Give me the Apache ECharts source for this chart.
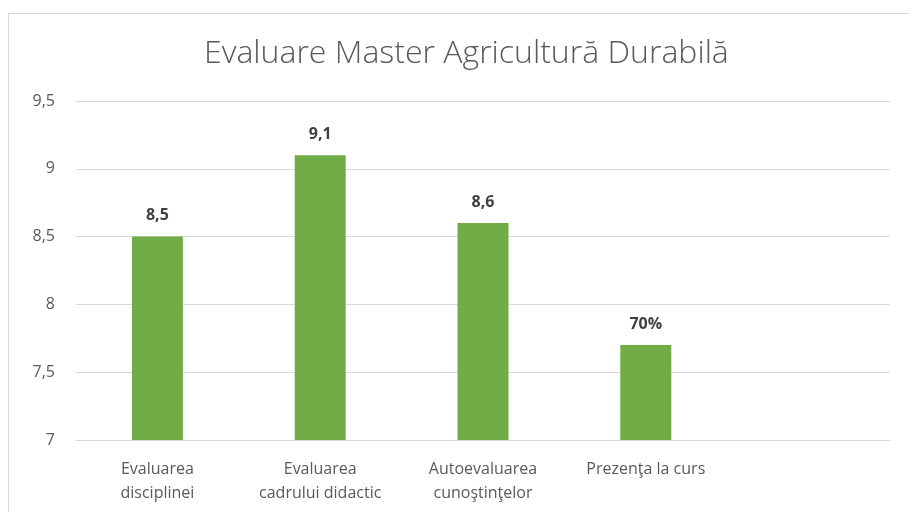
<!DOCTYPE html>
<html>
<head>
<meta charset="utf-8">
<script src="https://cdn.jsdelivr.net/npm/echarts@6/dist/echarts.min.js"></script>
<style>
  html, body { margin: 0; padding: 0; background: #fff; }
  #chart { width: 909px; height: 512px; position: relative; }
  #frame { position: absolute; left: 8px; top: 13px; width: 920px; height: 520px;
           border: 1px solid #d9d9d9; box-sizing: border-box; pointer-events: none; }
</style>
</head>
<body>
<div id="chart"></div>
<div id="frame"></div>
<script>
// Date
const categories = ['Evaluarea\ndisciplinei', 'Evaluarea\ncadrului didactic', 'Autoevaluarea\ncunoştinţelor', 'Prezenţa la curs', '']
const values = [8.5, 9.1, 8.6, 7.7, null]
const valueLabels = ['8,5', '9,1', '8,6', '70%', '']

const chart = echarts.init(document.getElementById('chart'))

chart.setOption({
  animation: false,
  title: {
    text: 'Evaluare Master Agricultură Durabilă',
    left: 199,
    top: 33,
    textStyle: {
      fontFamily: 'Open Sans',
      fontWeight: 300,
      fontSize: 32,
      color: '#595959'
    }
  },
  grid: { left: 76, right: 19, top: 101, bottom: 72 },
  xAxis: {
    type: 'category',
    data: categories,
    axisLine: { lineStyle: { color: '#d9d9d9', width: 1 } },
    axisTick: { show: false },
    axisLabel: {
      interval: 0,
      margin: 17,
      fontSize: 16,
      lineHeight: 24,
      color: '#595959',
      fontFamily: 'Open Sans'
    }
  },
  yAxis: {
    type: 'value',
    min: 7,
    max: 9.5,
    interval: 0.5,
    axisLine: { show: false },
    axisTick: { show: false },
    splitLine: { lineStyle: { color: '#d9d9d9', width: 1 } },
    axisLabel: {
      margin: 21,
      fontSize: 16,
      color: '#595959',
      fontFamily: 'Open Sans',
      formatter: (v) => String(v).replace('.', ',')
    }
  },
  series: [{
    type: 'bar',
    data: values,
    barWidth: 51,
    itemStyle: { color: '#70ad47' },
    label: {
      show: true,
      position: 'top',
      distance: 13,
      fontSize: 16,
      fontWeight: 'bold',
      color: '#404040',
      fontFamily: 'Open Sans',
      formatter: (p) => valueLabels[p.dataIndex]
    }
  }]
})
</script>
</body>
</html>
